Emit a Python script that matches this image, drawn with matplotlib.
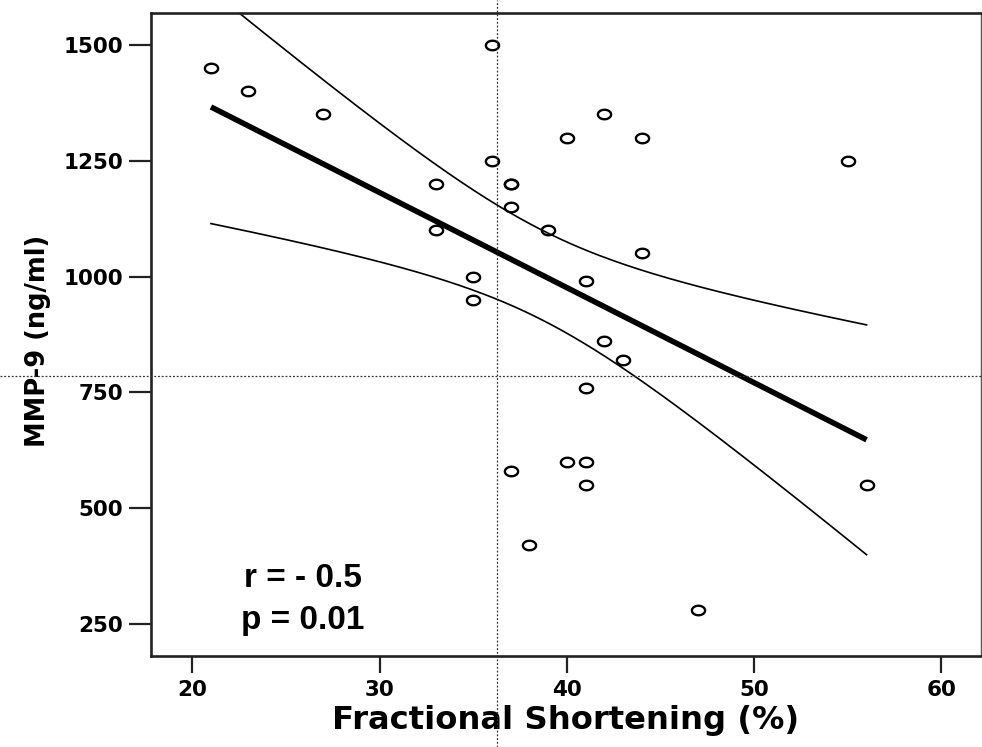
import numpy as np
import matplotlib
matplotlib.use('Agg')
import matplotlib.pyplot as plt
from matplotlib import font_manager
from matplotlib.path import Path
from matplotlib.lines import Line2D

# fractional shortening (%) and MMP-9 (ng/ml)
fs = [21, 23, 27, 33, 33, 35, 35, 36, 36, 37, 37, 37, 39, 40, 42, 44, 55, 44,
      41, 42, 43, 41, 37, 40, 41, 41, 56, 38, 47]
mmp9 = [1450, 1400, 1350, 1200, 1100, 1000, 950, 1500, 1250, 1200, 1200, 1150,
        1100, 1300, 1350, 1300, 1250, 1050, 990, 860, 820, 760, 580, 600, 600,
        550, 550, 420, 280]

x_ticks = [20, 30, 40, 50, 60]
y_ticks = [250, 500, 750, 1000, 1250, 1500]
stats_text = ['r = - 0.5', 'p = 0.01']

T_90 = 1.703  # t quantile, 90% two-sided, df = 27

TICK_FONT = dict(family='DejaVu Sans', weight='bold', size=15.5)
LABEL_FONT = dict(family='DejaVu Sans', weight='bold')


def arial_bold(size):
    # plain (not Narrow) Liberation Sans Bold, picked by file
    for f in font_manager.fontManager.ttflist:
        if (f.name == 'Liberation Sans' and f.weight in (700, 'bold')
                and f.style == 'normal' and 'Narrow' not in f.fname):
            return font_manager.FontProperties(fname=f.fname, size=size)
    return font_manager.FontProperties(family='DejaVu Sans', weight='bold',
                                       size=size * 0.92)


def fit_band(x, y, t):
    x = np.asarray(x, float)
    y = np.asarray(y, float)
    n = len(x)
    slope, icept = np.polyfit(x, y, 1)
    resid = y - (slope * x + icept)
    s = np.sqrt(np.sum(resid ** 2) / (n - 2))
    sxx = np.sum((x - x.mean()) ** 2)
    xs = np.linspace(x.min(), x.max(), 200)
    ys = slope * xs + icept
    hw = t * s * np.sqrt(1 / n + (xs - x.mean()) ** 2 / sxx)
    return xs, ys, ys - hw, ys + hw


def main():
    fig = plt.figure(figsize=(9.82, 7.47), dpi=100)
    ax = fig.add_axes([0.1538, 0.1218, 0.845, 0.8608])

    xs, ys, lo, hi = fit_band(fs, mmp9, T_90)
    ax.plot(xs, hi, color='black', lw=1.2, zorder=2)
    ax.plot(xs, lo, color='black', lw=1.2, zorder=2)
    ax.plot(xs, ys, color='black', lw=4.0, solid_capstyle='butt', zorder=3)

    # the source image is stretched sideways, so the circles look like ellipses
    th = np.linspace(0, 2 * np.pi, 80)
    ellipse = Path(np.column_stack([np.cos(th), 0.72 * np.sin(th)]), closed=True)
    ax.plot(fs, mmp9, ls='none', marker=ellipse, ms=9.5, mfc='none',
            mec='black', mew=1.7, zorder=4)

    ax.set_xlim(17.8, 62.1)
    ax.set_ylim(181, 1569)
    ax.set_xticks(x_ticks)
    ax.set_yticks(y_ticks)
    ax.set_xticklabels([str(v) for v in x_ticks], fontdict=TICK_FONT)
    ax.set_yticklabels([str(v) for v in y_ticks], fontdict=TICK_FONT)
    ax.tick_params(axis='x', length=12, width=1.6, pad=5, color='#222222')
    ax.tick_params(axis='y', length=16, width=1.6, pad=4, color='#222222')

    for side in ['left', 'bottom', 'top']:
        ax.spines[side].set_linewidth(1.9)
        ax.spines[side].set_color('#222222')
    ax.spines['right'].set_linewidth(1.0)
    ax.spines['right'].set_color('#555555')

    ax.set_xlabel('Fractional Shortening (%)', fontsize=23.2, **LABEL_FONT)
    ax.set_ylabel('MMP-9 (ng/ml)', fontsize=18.5, **LABEL_FONT)
    ax.xaxis.set_label_coords(0.5, -0.076)
    ax.yaxis.set_label_coords(-0.121, 0.49)

    stats_font = arial_bold(24)
    for txt, yv in zip(stats_text, [329, 240]):
        ax.text(25.9, yv, txt, ha='center', va='baseline',
                fontproperties=stats_font)

    # dotted cursor crosshair that sits over the whole screenshot
    fig.add_artist(Line2D([0.5061, 0.5061], [0, 1], transform=fig.transFigure,
                          color='#333333', lw=0.9, ls=(0, (1.5, 1.5)), zorder=10))
    fig.add_artist(Line2D([0, 1], [0.496, 0.496], transform=fig.transFigure,
                          color='#333333', lw=0.9, ls=(0, (1.5, 1.5)), zorder=10))

    fig.savefig('out.png', dpi=100)


if __name__ == '__main__':
    main()
